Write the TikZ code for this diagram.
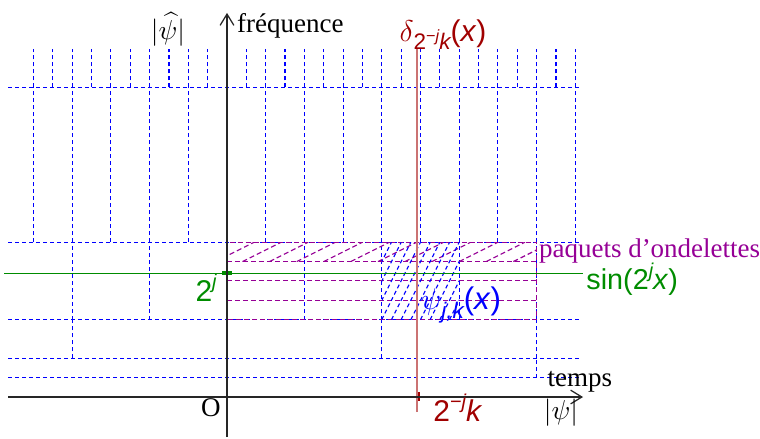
\documentclass[tikz,border=0pt]{standalone}
\usepackage{fontspec}
\setmainfont{Liberation Serif}
\newfontfamily\hv{Liberation Sans}
\usetikzlibrary{arrows.meta}
\definecolor{grille}{RGB}{0,0,255}
\definecolor{paquet}{RGB}{150,0,150}
\definecolor{dirac}{RGB}{160,0,0}
\definecolor{sinus}{RGB}{0,140,0}
\newcommand{\expo}[1]{\raisebox{0.8ex}{\fontsize{8}{8}\selectfont #1}}
\newcommand{\indice}[1]{\raisebox{-0.5ex}{\fontsize{9}{9}\selectfont #1}}

\begin{document}
\begin{tikzpicture}[
    x=7.74pt, y=7.74pt,
    every node/.style={inner sep=0pt, font=\fontsize{10.8}{13}\selectfont},
    grid/.style={grille, line width=0.45pt, dash pattern=on 1.6pt off 1.2pt},
    pq/.style={paquet, line width=0.45pt, dash pattern=on 2pt off 1.2pt},
    axe/.style={black!85, line width=0.5pt, -{Straight Barb[length=4.5pt,width=5.5pt]}},
  ]
  \useasboundingbox (-11.731,-2.119) rectangle (27.545,20.517);

  % horizontal lines of the tiling at frequencies 1, 2, 4, 8, 16
  \foreach \f in {1,2,4,8,16}
    \draw[grid] (-11.3,\f) -- (18.3,\f);
  % time cells, finer when the frequency is higher
  \foreach \t in {-10,...,18}
    \draw[grid] (\t,16) -- (\t,18);
  \foreach \t in {-10,-8,...,18}
    \draw[grid] (\t,8) -- (\t,16);
  \foreach \t in {-8,-4,...,16}
    \draw[grid] (\t,4) -- (\t,8);
  \foreach \t in {-8,0,8,16}
    \draw[grid] (\t,2) -- (\t,4);
  \foreach \t in {0,16}
    \draw[grid] (\t,1) -- (\t,2);

  % wavelet packets: the octave [4,8] split in four bands
  \draw[pq] (0,4) rectangle (16,8);
  \foreach \f in {5,6,7}
    \draw[pq] (0,\f) -- (16,\f);
  \begin{scope}
    \clip (0,7) rectangle (16,8);
    \foreach \t in {-2,-0.6,...,16}
      \draw[pq] (\t,7) -- ++(2,1);
  \end{scope}

  % the wavelet psi_{j,k}
  \begin{scope}
    \clip (8,4) rectangle (12,8);
    \foreach \t in {6,6.5,...,12}
      \draw[grid] (\t,4) -- ++(2,4);
  \end{scope}

  % sinus and dirac
  \coordinate (s0) at (-11.5,6.4);
  \coordinate (s1) at (18.4,6.4);
  \draw[sinus, line width=0.5pt] (s0) -- (s1);
  \draw[sinus, line width=1.4pt] (-0.25,6.4) -- (0.25,6.4);
  \coordinate (d0) at (9.82,-0.78);
  \coordinate (d1) at (9.82,18.04);
  \draw[dirac!55, line width=0.9pt] (d0) -- (d1);
  \draw[dirac, line width=1pt] (9.92,-0.2) -- (9.92,0.25);

  % axes
  \coordinate (tmin) at (-11.3,0);
  \coordinate (tmax) at (18.4,0);
  \coordinate (fmin) at (0,-2.07);
  \coordinate (fmax) at (0,19.85);
  \draw[axe] (tmin) -- (tmax);
  \draw[axe] (fmin) -- (fmax);

  % labels
  \node[anchor=west] (freq) at (0.5,19.2) {fréquence};
  \node (psihat) at (-3.05,19.0) {$|\widehat{\psi}|$};
  \node (orig) at (-0.83,-0.57) {O};
  \node (temps) at (18.24,0.8) {temps};
  \node (psi) at (17.26,-0.83) {$|\psi|$};
  \node[dirac, font=\fontsize{12}{14}\selectfont] (dk) at (11.9,-0.55)
    {\hv 2\expo{−\itshape j}\itshape k};
  \node[dirac, font=\fontsize{12}{14}\selectfont] (delta) at (11.16,18.75)
    {$\delta$\hv\indice{2\raisebox{0.6ex}{\fontsize{6.5}{7}\selectfont −\itshape j}\itshape k}(\textit{x})};
  \node[sinus, anchor=west, font=\fontsize{11.5}{14}\selectfont] (sin) at (18.55,6.1)
    {\hv sin(2\expo{\itshape j}\textit{x})};
  \node[sinus, font=\fontsize{12}{14}\selectfont] (deuxj) at (-1.08,5.63) {\hv 2\expo{\itshape j}};
  \node[paquet, anchor=west] (paq) at (16.1,7.55) {paquets d’ondelettes};
  \node[grille, font=\fontsize{12.5}{15}\selectfont] (psijk) at (12.1,4.75)
    {$\psi$\hv\indice{\itshape j,k}(\textit{x})};
\end{tikzpicture}
\end{document}
